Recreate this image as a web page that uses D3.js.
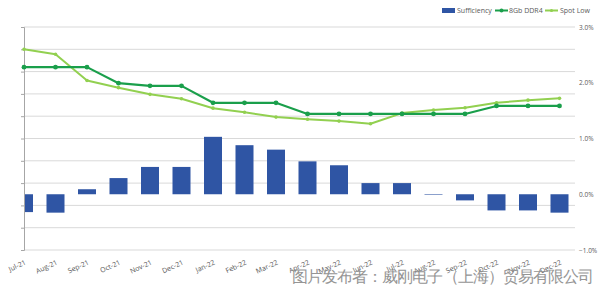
<!DOCTYPE html>
<html>
<head>
<meta charset="utf-8">
<script src="https://cdn.jsdelivr.net/npm/d3@7/dist/d3.min.js"></script>
<style>
  html, body { margin: 0; padding: 0; background: #fff; }
  svg { display: block; }
  text { font-family: "Open Sans", "Noto Sans", sans-serif; }
</style>
</head>
<body>
<svg id="chart" width="600" height="288"></svg>
<script>
// Months on the category axis
const months = ["Jul-21","Aug-21","Sep-21","Oct-21","Nov-21","Dec-21","Jan-22","Feb-22","Mar-22",
                "Apr-22","May-22","Jun-22","Jul-22","Aug-22","Sep-22","Oct-22","Nov-22","Dec-22"];
// Sufficiency ratio (%), right axis
const sufficiency = [-0.32,-0.33,0.09,0.29,0.49,0.49,1.03,0.88,0.80,0.59,0.52,0.20,0.20,-0.01,-0.11,-0.29,-0.29,-0.33];
// Prices (USD), unlabelled left axis
const ddr4 = [4.10,4.10,4.10,3.74,3.68,3.68,3.30,3.30,3.30,3.05,3.05,3.05,3.05,3.05,3.05,3.23,3.23,3.23];
const spotLow = [4.50,4.39,3.80,3.64,3.49,3.39,3.18,3.09,2.98,2.93,2.89,2.83,3.07,3.14,3.19,3.30,3.36,3.40];
// Right axis tick values
const rightTicks = [-1, 0, 1, 2, 3];
const legendItems = ["Sufficiency", "8Gb DDR4", "Spot Low"];

const colors = { bar: "#2f55a4", ddr4: "#1a9f4b", spot: "#92d050", grid: "#d9d9d9", axis: "#a6a6a6", text: "#595959" };

const svg = d3.select("#chart");
const plotLeft = 24, plotRight = 575, plotTop = 27, plotBottom = 250;

const x = d3.scalePoint().domain(months).range([plotLeft, 559.5]);
const yR = d3.scaleLinear().domain([-1, 3]).range([plotBottom, plotTop]);
const yL = d3.scaleLinear().domain([0, 5]).range([plotBottom, plotTop]);

// Gridlines from the left axis
const gridTicks = d3.range(0, 5.01, 0.5);
svg.append("g").selectAll("line").data(gridTicks).join("line")
  .attr("x1", plotLeft).attr("x2", plotRight)
  .attr("y1", d => yL(d)).attr("y2", d => yL(d))
  .attr("stroke", colors.grid).attr("stroke-width", 1);

// Clip so the first bar is cut at the axis
svg.append("clipPath").attr("id", "plot")
  .append("rect").attr("x", plotLeft).attr("y", 0).attr("width", plotRight - plotLeft).attr("height", 288);

const barW = 18;
svg.append("g").attr("clip-path", "url(#plot)").selectAll("rect").data(months).join("rect")
  .attr("x", d => x(d) - barW / 2)
  .attr("width", barW)
  .attr("y", (d, i) => yR(Math.max(0, sufficiency[i])))
  .attr("height", (d, i) => Math.abs(yR(sufficiency[i]) - yR(0)))
  .attr("fill", colors.bar);

// Left axis line with ticks
const axisG = svg.append("g").attr("transform", `translate(${plotLeft},0)`)
  .call(d3.axisLeft(yL).tickValues(gridTicks).tickSize(3).tickFormat(""));
axisG.select(".domain").attr("stroke", colors.axis);
axisG.selectAll(".tick line").attr("stroke", colors.axis);

// Category labels
const xAxis = svg.append("g").attr("transform", `translate(0,${plotBottom})`)
  .call(d3.axisBottom(x).tickSize(0).tickFormat(d => d));
xAxis.select(".domain").remove();
xAxis.selectAll("text")
  .attr("font-size", 7).attr("fill", colors.text)
  .attr("text-anchor", "end")
  .attr("dy", 0).attr("y", 0)
  .attr("transform", "translate(2,14) rotate(-25)");

// Right axis labels
const rAxis = svg.append("g").attr("transform", `translate(${plotRight},0)`)
  .call(d3.axisRight(yR).tickValues(rightTicks).tickSize(0).tickPadding(4).tickFormat(d => d3.format(".1f")(d) + "%"));
rAxis.select(".domain").remove();
rAxis.selectAll("text").attr("font-size", 6.5).attr("fill", colors.text);

// Price lines
function drawLine(values, color, width, r) {
  const line = d3.line().x((d, i) => x(months[i])).y(d => yL(d));
  svg.append("path").datum(values).attr("d", line)
    .attr("fill", "none").attr("stroke", color).attr("stroke-width", width).attr("stroke-linejoin", "round");
  svg.append("g").selectAll("circle").data(values).join("circle")
    .attr("cx", (d, i) => x(months[i])).attr("cy", d => yL(d)).attr("r", r).attr("fill", color);
}
drawLine(spotLow, colors.spot, 2, 1.8);
drawLine(ddr4, colors.ddr4, 2.2, 2.4);

// Legend
const lg = svg.append("g").attr("font-size", 7).attr("fill", colors.text);
lg.append("rect").attr("x", 442).attr("y", 8).attr("width", 13).attr("height", 5).attr("fill", colors.bar);
lg.append("text").attr("x", 457).attr("y", 13).text(legendItems[0]).attr("fill", colors.text);
lg.append("line").attr("x1", 495).attr("x2", 508).attr("y1", 10.5).attr("y2", 10.5).attr("stroke", colors.ddr4).attr("stroke-width", 2);
lg.append("circle").attr("cx", 501.5).attr("cy", 10.5).attr("r", 2).attr("fill", colors.ddr4);
lg.append("text").attr("x", 509).attr("y", 13).text(legendItems[1]).attr("fill", colors.text);
lg.append("line").attr("x1", 545).attr("x2", 558).attr("y1", 10.5).attr("y2", 10.5).attr("stroke", colors.spot).attr("stroke-width", 2);
lg.append("circle").attr("cx", 551.5).attr("cy", 10.5).attr("r", 1.6).attr("fill", colors.spot);
lg.append("text").attr("x", 560).attr("y", 13).text(legendItems[2]).attr("fill", colors.text);

// Publisher credit
svg.append("text").attr("x", 292).attr("y", 282)
  .attr("font-family", "'Noto Sans CJK SC', sans-serif").attr("font-size", 15.5).attr("font-weight", 300)
  .attr("textLength", 302).attr("lengthAdjust", "spacing")
  .attr("fill", "#8a8a8a").attr("opacity", 0.9)
  .text("图片发布者：威刚电子（上海）贸易有限公司");
</script>
</body>
</html>
